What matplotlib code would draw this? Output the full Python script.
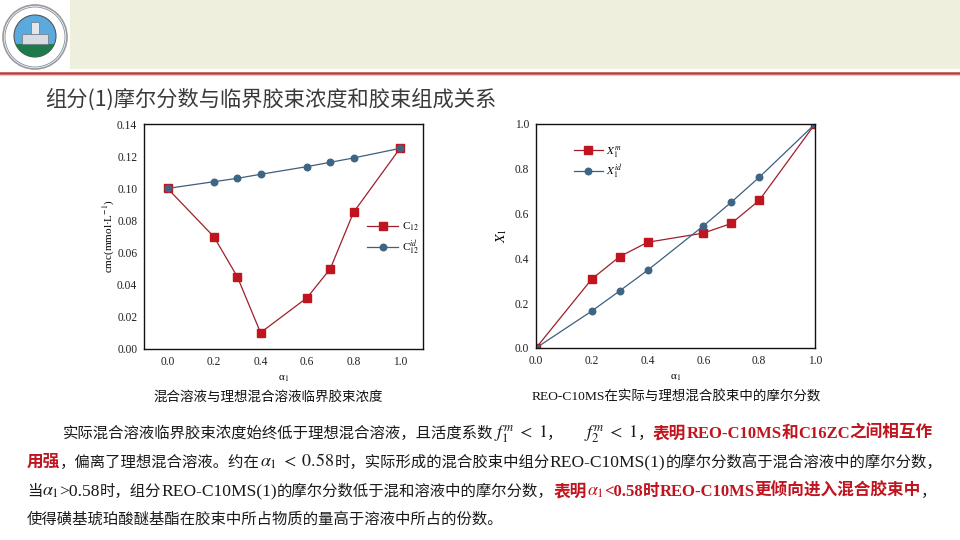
import matplotlib
matplotlib.use("Agg")
import matplotlib.pyplot as plt
from matplotlib.patches import Rectangle, Circle
from matplotlib.lines import Line2D

plt.rcParams['mathtext.fontset'] = 'stix'
SERIF = ['Liberation Serif', 'Noto Sans CJK SC']
CJK = ['Noto Sans CJK SC', 'DejaVu Sans']

# ---------------- data ----------------
alpha = [0.0, 0.2, 0.3, 0.4, 0.6, 0.7, 0.8, 1.0]
cmc_real = [0.100, 0.0697, 0.0449, 0.0100, 0.0318, 0.0499, 0.0851, 0.125]
cmc_ideal = [0.100, 0.1042, 0.1063, 0.1088, 0.1136, 0.1163, 0.1190, 0.125]
x_real = [0.0, 0.308, 0.408, 0.472, 0.513, 0.556, 0.659, 1.0]
x_ideal = [0.0, 0.165, 0.255, 0.347, 0.545, 0.651, 0.762, 1.0]
left_yticks = [0.00, 0.02, 0.04, 0.06, 0.08, 0.10, 0.12, 0.14]
left_xticks = [0.0, 0.2, 0.4, 0.6, 0.8, 1.0]
right_ticks = [0.0, 0.2, 0.4, 0.6, 0.8, 1.0]

title = "组分(1)摩尔分数与临界胶束浓度和胶束组成关系"
cap_left = "混合溶液与理想混合溶液临界胶束浓度"
cap_right = "REO-C10MS在实际与理想混合胶束中的摩尔分数"

RED_M = '#C0141E'
RED_L = '#9E1F2C'
BLUE_M = '#3F6584'
BLUE_L = '#3E5E7E'
W, H = 960, 540
TICK_FS = 8.3

fig = plt.figure(figsize=(9.6, 5.4), dpi=100)
fig.patch.set_facecolor('white')

# background / header layer
bg = fig.add_axes([0, 0, 1, 1], zorder=-5)
bg.set_xlim(0, W)
bg.set_ylim(H, 0)
bg.axis('off')
bg.add_patch(Rectangle((70, 0), W - 70, 69, facecolor='#EEF0DD', edgecolor='none'))
bg.add_line(Line2D([0, W], [72.5, 72.5], color='#C0393B', lw=1.8))
bg.add_line(Line2D([0, W], [74.5, 74.5], color='#E8C8C8', lw=0.8))
# logo
bg.add_patch(Circle((35, 37), 32, facecolor='white', edgecolor='#9A9A9A', lw=1.2))
bg.add_patch(Circle((35, 37), 30, facecolor='none', edgecolor='#7A8AA0', lw=0.6))
inner = Circle((35, 36), 21, facecolor='#5AAAE0', edgecolor='#555555', lw=0.8)
bg.add_patch(inner)
g = Rectangle((10, 44), 50, 20, facecolor='#1E7A4A', edgecolor='none')
bg.add_patch(g)
g.set_clip_path(inner)
bg.add_patch(Rectangle((22, 34), 26, 10, facecolor='#D8DCE2', edgecolor='#6E7680', lw=0.5))
bg.add_patch(Rectangle((31, 22), 8, 12, facecolor='#E4E6EA', edgecolor='#6E7680', lw=0.5))

# title
bg.text(45, 100, title, fontsize=15.3, family=CJK, color='#3A3A3A', va='center', ha='left')


def style_axes(ax):
    for s in ax.spines.values():
        s.set_linewidth(1.0)
        s.set_color('#111111')
    ax.tick_params(length=0, pad=5, labelsize=TICK_FS, colors='#222222')
    for lab in ax.get_xticklabels() + ax.get_yticklabels():
        lab.set_family(SERIF)


# ---------- left plot ----------
ax1 = fig.add_axes([144.3 / W, 1 - 348.7 / H, 279 / W, 224.4 / H])
ax1.plot(alpha, cmc_real, color=RED_L, lw=0.9, marker='s', ms=5.2,
         mfc=RED_M, mec=RED_M, label=r'C$_{12}$')
ax1.plot(alpha, cmc_ideal, color=BLUE_L, lw=0.9, marker='o', ms=4.7,
         mfc=BLUE_M, mec=BLUE_M, label=r'C$_{12}^{id}$')
ax1.set_xlim(-0.1, 1.1)
ax1.set_ylim(0, 0.14)
ax1.set_xticks(left_xticks)
ax1.set_yticks(left_yticks)
ax1.set_xticklabels([f"{v:.1f}" for v in left_xticks])
ax1.set_yticklabels([f"{v:.2f}" for v in left_yticks])
style_axes(ax1)
ax1.set_xlabel(r'α$_1$', fontsize=8, family=SERIF, labelpad=4)
ax1.set_ylabel(r'cmc(mmol·L$^{-1}$)', fontsize=8, family=SERIF, labelpad=0)
ax1.legend(loc='center right', bbox_to_anchor=(1.02, 0.49), frameon=False,
           handlelength=2.8, handletextpad=0.3, labelspacing=0.45,
           prop={'family': SERIF, 'size': 8})

# ---------- right plot ----------
ax2 = fig.add_axes([536 / W, 1 - 348 / H, 279 / W, 224 / H])
ax2.plot(alpha, x_real, color=RED_L, lw=0.9, marker='s', ms=5.2,
         mfc=RED_M, mec=RED_M, label=r'$X_1^m$')
ax2.plot(alpha, x_ideal, color=BLUE_L, lw=0.9, marker='o', ms=4.7,
         mfc=BLUE_M, mec=BLUE_M, label=r'$X_1^{id}$')
ax2.set_xlim(0, 1)
ax2.set_ylim(0, 1)
ax2.set_xticks(right_ticks)
ax2.set_yticks(right_ticks)
ax2.set_xticklabels([f"{v:.1f}" for v in right_ticks])
ax2.set_yticklabels([f"{v:.1f}" for v in right_ticks])
style_axes(ax2)
ax2.set_xlabel(r'α$_1$', fontsize=8, family=SERIF, labelpad=4)
ax2.set_ylabel(r'$X_1$', fontsize=10, labelpad=4)
ax2.legend(loc='upper left', bbox_to_anchor=(0.1, 0.955), frameon=False,
           handlelength=2.6, handletextpad=0.3, labelspacing=0.3,
           prop={'family': SERIF, 'size': 8})

# captions
bg.text(268, 397, cap_left, fontsize=9.7, family=CJK, color='#111111', ha='center', va='center')
bg.text(676, 397, cap_right, fontsize=9.7, family=SERIF, color='#111111', ha='center', va='center')

# ---------- paragraph ----------
renderer = fig.canvas.get_renderer()
FS = 11.05    # CJK runs
FSB = 12.0    # bold CJK runs
LFS = 12.6    # Latin runs
LFSB = 12.0   # bold Latin runs
MFS = 13      # math runs
RED = '#C0141E'
K = '#1A1A1A'


def runs(s):
    out = []
    for c in s:
        cj = ord(c) >= 0x2E80
        if out and out[-1][1] == cj:
            out[-1][0] += c
        else:
            out.append([c, cj])
    return out


def text_line(pieces, x, y):
    for s, color, bold in pieces:
        if s.startswith('$'):
            parts = [(s, MFS, SERIF)]
        else:
            parts = []
            for r, cj in runs(s):
                if cj:
                    parts.append((r, FSB if bold else FS, CJK))
                else:
                    parts.append((r, LFSB if bold else LFS, SERIF))
        for txt, fs, fam in parts:
            t = bg.text(x, y, txt, fontsize=fs, family=fam, color=color,
                        fontweight='bold' if bold else 'normal', va='baseline', ha='left')
            bb = t.get_window_extent(renderer)
            x += bb.width


text_line([
    ("实际混合溶液临界胶束浓度始终低于理想混合溶液，且活度系数", K, False),
    (r"$f_1^m\;<\;1$", K, False),
    ("，     ", K, False),
    (r"$f_2^m\;<\;1$", K, False),
    ("，", K, False),
    ("表明REO-C10MS和C16ZC之间相互作", RED, True),
], 63, 438)
text_line([
    ("用强", RED, True),
    ("，偏离了理想混合溶液。约在", K, False),
    (r"$\alpha_1\;<\;0.58$", K, False),
    ("时，实际形成的混合胶束中组分REO-C10MS(1)的摩尔分数高于混合溶液中的摩尔分数，", K, False),
], 27, 467)
text_line([
    ("当", K, False),
    (r"$\alpha_1$", K, False),
    (">0.58时，组分REO-C10MS(1)的摩尔分数低于混和溶液中的摩尔分数，", K, False),
    ("表明", RED, True),
    (r"$\alpha_1$", RED, True),
    ("<0.58时REO-C10MS更倾向进入混合胶束中", RED, True),
    ("，", K, False),
], 27, 496)
text_line([
    ("使得磺基琥珀酸醚基酯在胶束中所占物质的量高于溶液中所占的份数。", K, False),
], 27, 524)

fig.savefig('out.png', dpi=100)
